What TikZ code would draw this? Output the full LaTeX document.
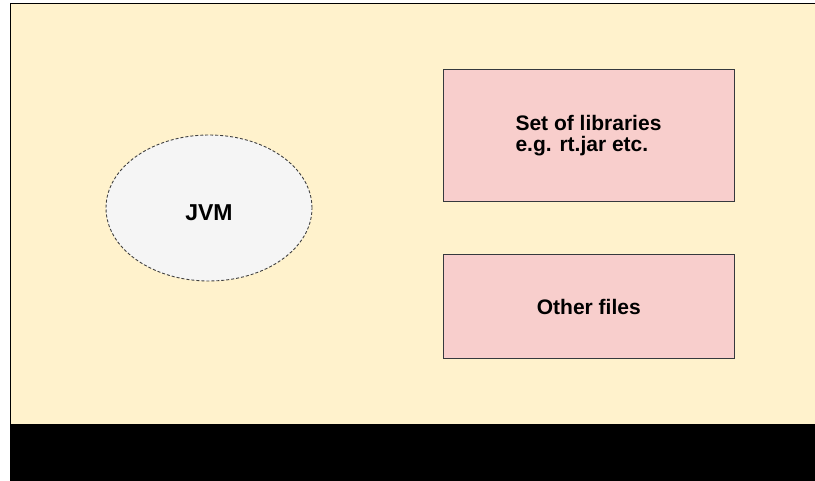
\documentclass[tikz,border=0pt]{standalone}
\usepackage{fontspec}
\setmainfont{Liberation Sans}
\usetikzlibrary{shapes.geometric}
\definecolor{bgyellow}{HTML}{FFF2CC}
\definecolor{boxpink}{HTML}{F8CECC}
\definecolor{jvmgray}{HTML}{F5F5F5}
\definecolor{boxline}{HTML}{36393D}

\begin{document}
\begin{tikzpicture}[x=1pt,y=-1pt,
  filebox/.style={rectangle, fill=boxpink, draw=boxline, line width=1pt,
    minimum width=291pt, inner sep=0pt, align=left,
    font=\fontsize{21}{20.5}\selectfont\bfseries}]
\path[use as bounding box, clip] (0,0) rectangle (815,481);
% background and bottom band
\filldraw[fill=bgyellow, draw=black, line width=1.2pt] (10.5,3.5) rectangle (840,425);
\fill[black] (10,425) rectangle (815,481);
% JVM
\node[ellipse, fill=jvmgray, draw=black!75, line width=0.9pt, dash pattern=on 3pt off 2pt,
  minimum width=206pt, minimum height=146pt, inner sep=0pt,
  text height=26pt, text depth=0pt,
  font=\fontsize{23}{20}\selectfont\bfseries] (jvm) at (209,208) {JVM};
% files
\node[filebox, minimum height=131.5pt] (libs) at (588.5,135.7) {Set of libraries\\e.g. rt.jar etc.};
\node[filebox, minimum height=104pt] (others) at (588.8,307) {Other files};
\end{tikzpicture}
\end{document}
